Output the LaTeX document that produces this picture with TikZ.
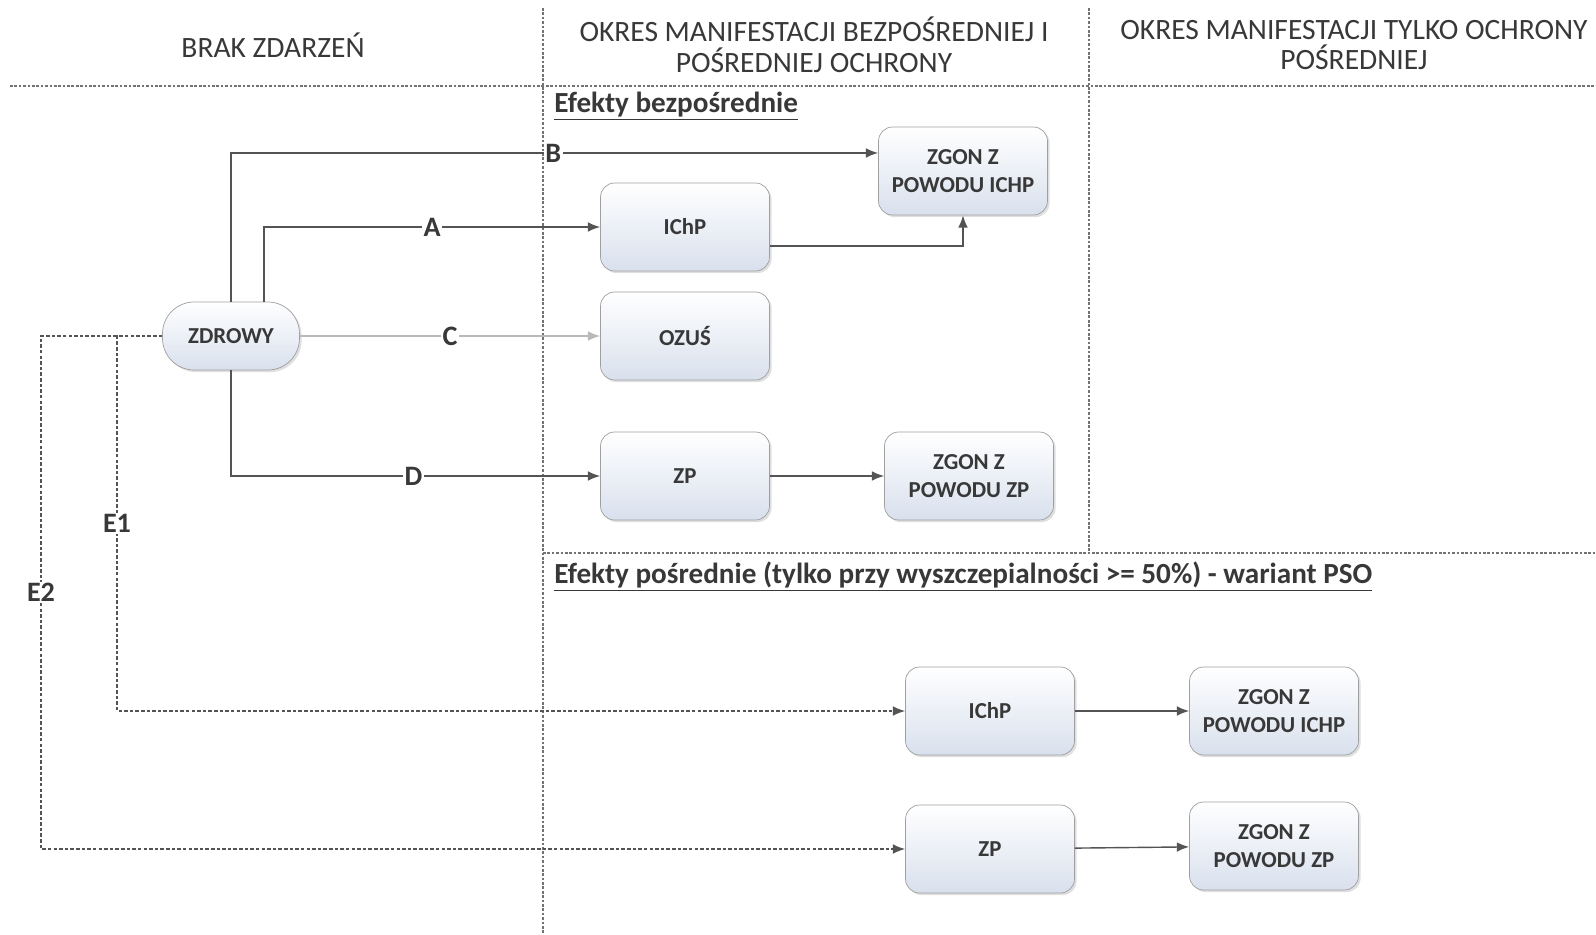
\documentclass[tikz,border=0pt]{standalone}
\usepackage{fontspec}
\setmainfont{Carlito}
\usetikzlibrary{arrows.meta,shadows}
\definecolor{LineClr}{rgb}{0.33,0.33,0.33}
\definecolor{TextClr}{rgb}{0.22,0.22,0.22}
\definecolor{BoxClr}{rgb}{0.85,0.88,0.93}
\definecolor{SepClr}{rgb}{0.45,0.45,0.45}

\begin{document}
\begin{tikzpicture}[x=0.02cm,y=-0.02cm,
  stanbox/.style={draw=gray!75,rounded corners=8pt,top color=white,bottom color=BoxClr,
    drop shadow={opacity=0.25,shadow xshift=1.2pt,shadow yshift=-1.2pt},
    minimum width=3.38cm,minimum height=1.76cm,align=center,text=TextClr,
    font=\fontsize{13}{15.5}\selectfont\bfseries},
  startbox/.style={stanbox,rounded corners=18pt,minimum width=2.74cm,minimum height=1.36cm},
  sep/.style={draw=SepClr,line width=0.6pt,dash pattern=on 1.5pt off 1pt},
  link/.style={draw=LineClr,line width=0.8pt,-{Latex[length=7pt,width=5.5pt]}},
  dlink/.style={link,dash pattern=on 2pt off 1.2pt},
  lab/.style={fill=white,inner sep=1pt,text=TextClr,font=\fontsize{16}{18}\selectfont\bfseries},
  head/.style={align=center,text=TextClr,font=\fontsize{16.8}{17.5}\selectfont},
  part/.style={anchor=west,inner sep=0pt,text=TextClr,font=\fontsize{16.6}{18}\selectfont\bfseries}]

\fill[white] (0,0) rectangle (1596,934);
\useasboundingbox (0,0) rectangle (1596,934);

\draw[sep] (10,86) -- (1596,86);
\draw[sep] (543,8) -- (543,934);
\draw[sep] (1089,8) -- (1089,553);
\draw[sep] (543,553) -- (1596,553);

\node[head] (h1) at (273,45) {BRAK ZDARZEŃ};
\node[head] (h2) at (814,45) {OKRES MANIFESTACJI BEZPOŚREDNIEJ I\\POŚREDNIEJ OCHRONY};
\node[head] (h3) at (1354,45) {OKRES MANIFESTACJI TYLKO OCHRONY\\POŚREDNIEJ};

\node[part] (p1) at (554,106) {\underline{Efekty bezpośrednie}};
\node[part] (p2) at (554,577) {\underline{Efekty pośrednie (tylko przy wyszczepialności >= 50\%) - wariant PSO}};

\node[startbox] (zdrowy) at (231,336) {ZDROWY};
\node[stanbox] (ichp) at (685,227) {IChP};
\node[stanbox] (zgonichp) at (963,171) {ZGON Z\\POWODU ICHP};
\node[stanbox] (ozus) at (685,336) {OZUŚ};
\node[stanbox] (zp) at (685,476) {ZP};
\node[stanbox] (zgonzp) at (969,476) {ZGON Z\\POWODU ZP};
\node[stanbox] (ichp2) at (990,711) {IChP};
\node[stanbox] (zgonichp2) at (1274,711) {ZGON Z\\POWODU ICHP};
\node[stanbox] (zp2) at (990,849) {ZP};
\node[stanbox] (zgonzp2) at (1274,846) {ZGON Z\\POWODU ZP};

\coordinate (e1) at (117,336);
\coordinate (e2) at (41,336);

\draw[link] (zdrowy.north) |- node[lab,pos=0.749] {B} (zgonichp.168);
\draw[link] ([xshift=0.66cm]zdrowy.north) |- node[lab,pos=0.75] {A} (ichp.west);
\draw[link] ([yshift=-0.38cm]ichp.east) -| (zgonichp.south);
\draw[link,draw=gray!55] (zdrowy.east) -- node[lab] {C} (ozus.west);
\draw[link] (zdrowy.south) |- node[lab,pos=0.747] {D} (zp.west);
\draw[link] (zp) -- (zgonzp);
\draw[dlink] (zdrowy.west) -- (e1) |- node[lab,pos=0.25] {E1} (ichp2.west);
\draw[dlink] (e1) -- (e2) |- node[lab,pos=0.25] {E2} (zp2.west);
\draw[link] (ichp2) -- (zgonichp2);
\draw[link] (zp2) -- (zgonzp2);

\end{tikzpicture}
\end{document}
